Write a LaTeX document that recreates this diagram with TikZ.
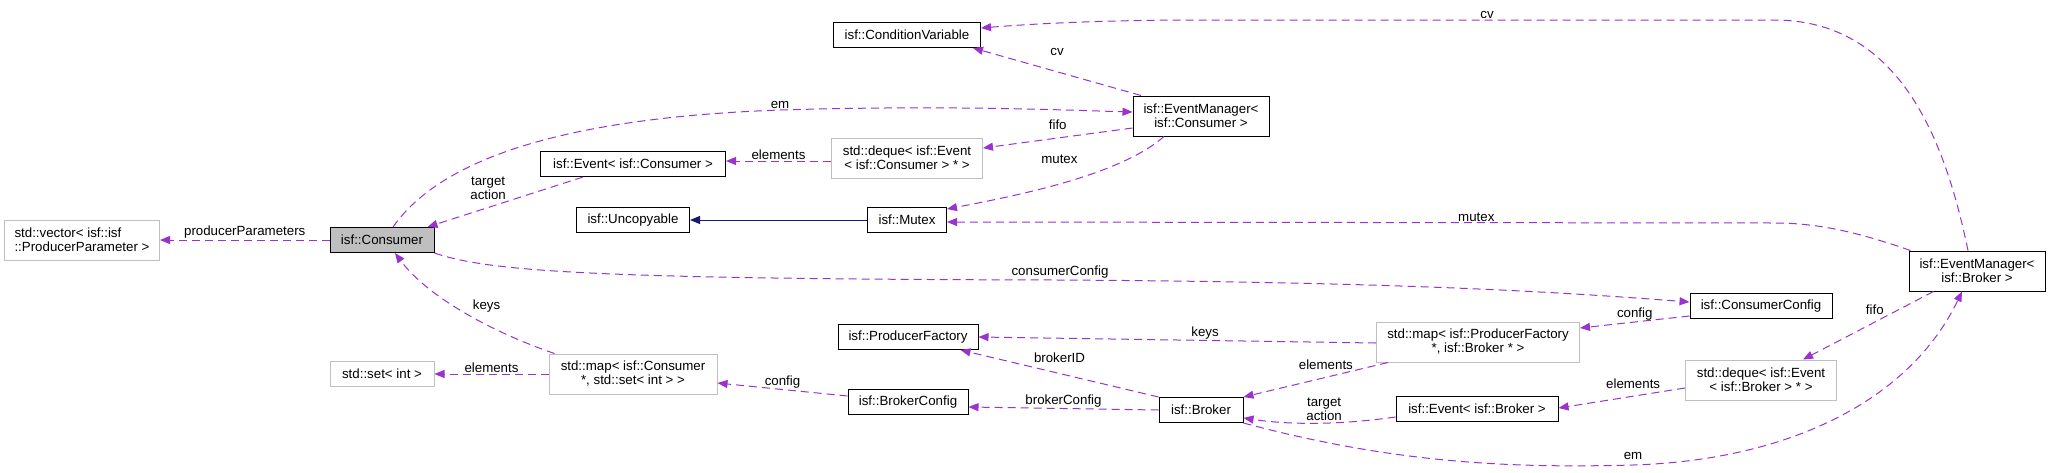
\documentclass[tikz,border=0pt]{standalone}
\usepackage{fontspec}
\setmainfont{Liberation Sans}
\usetikzlibrary{arrows.meta}

\definecolor{usecol}{RGB}{154,50,205}
\definecolor{inhcol}{RGB}{25,25,112}
\definecolor{extcol}{RGB}{191,191,191}

\begin{document}
\begin{tikzpicture}[
  x=1pt, y=-1pt,
  cls/.style={draw=black, fill=white, line width=1pt, align=center, inner xsep=3pt,
              inner ysep=2pt, minimum height=25pt, font=\fontsize{13.3}{14}\selectfont},
  ext/.style={cls, draw=extcol},
  cur/.style={cls, fill=extcol},
  twoline/.style={minimum height=40pt},
  use/.style={draw=usecol, line width=1pt, dash pattern=on 8pt off 5pt,
              -{Triangle[length=10pt, width=8pt]}},
  inh/.style={draw=inhcol, line width=1pt, -{Triangle[length=10pt, width=8pt]}},
  lbl/.style={font=\fontsize{13.3}{14}\selectfont, align=center, inner sep=1pt, text=black}
]
\useasboundingbox (0,0) rectangle (2051,472);

\node[ext, align=left, minimum width=155pt, twoline] (vec) at (82,240) {std::vector< isf::isf\\::ProducerParameter >};
\node[cur, minimum width=104pt] (cons) at (382,240) {isf::Consumer};
\node[ext, minimum width=104pt] (set) at (382,374) {std::set< int >};
\node[cls, minimum width=185pt] (evc) at (633,164) {isf::Event< isf::Consumer >};
\node[cls, minimum width=113pt] (unc) at (633,220) {isf::Uncopyable};
\node[ext, minimum width=168pt, twoline] (mapc) at (633,374) {std::map< isf::Consumer\\*, std::set< int > >};
\node[cls, minimum width=147pt] (cv) at (907,35) {isf::ConditionVariable};
\node[ext, minimum width=151pt, twoline] (dqc) at (907,158) {std::deque< isf::Event\\< isf::Consumer > * >};
\node[cls, minimum width=79pt] (mtx) at (907,220) {isf::Mutex};
\node[cls, minimum width=140pt] (pf) at (908,337) {isf::ProducerFactory};
\node[cls, minimum width=120pt] (bcfg) at (908,402) {isf::BrokerConfig};
\node[cls, minimum width=136pt, twoline] (emc) at (1201,116) {isf::EventManager<\\isf::Consumer >};
\node[cls, minimum width=84pt] (brk) at (1201,410) {isf::Broker};
\node[ext, minimum width=203pt, twoline] (mapb) at (1478,342) {std::map< isf::ProducerFactory\\*, isf::Broker * >};
\node[cls, minimum width=162pt] (evb) at (1477,409) {isf::Event< isf::Broker >};
\node[cls, minimum width=142pt] (ccfg) at (1761,306) {isf::ConsumerConfig};
\node[ext, minimum width=151pt, twoline] (dqb) at (1761,380) {std::deque< isf::Event\\< isf::Broker > * >};
\node[cls, minimum width=136pt, twoline] (emb) at (1977,271) {isf::EventManager<\\isf::Broker >};

\draw[use] (cons.west) -- node[lbl, above]{producerParameters} (vec.east);
\draw[use] ([xshift=-50pt]evc.south) -- node[lbl, pos=0.61, above=6pt]{target\\action} ([xshift=-7pt]cons.north east);
\draw[use] ([xshift=6pt]mapc.north west) .. controls (500,335) and (430,300) .. node[lbl, pos=0.5, above right, xshift=4pt]{keys} ([xshift=13pt]cons.south);
\draw[use] ([xshift=11pt]cons.north) .. controls (440,160) and (560,118) .. (780,110) node[lbl, above]{em}
  .. controls (950,105) and (1060,110) .. ([yshift=4pt]emc.west);
\draw[use] (cons.south east) .. controls (490,272) and (600,279) .. (1060,280) node[lbl, above]{consumerConfig}
  .. controls (1400,282) and (1560,292) .. ([yshift=4pt]ccfg.west);
\draw[use] (mapc.west) -- node[lbl, above]{elements} (set.east);
\draw[use] ([yshift=-3pt]dqc.west) -- node[lbl, above]{elements} ([yshift=3pt]evc.east);
\draw[use] ([xshift=-60pt]emc.north) -- node[lbl, above=15pt]{cv} ([xshift=-8pt]cv.south east);
\draw[use] ([yshift=-12pt]emc.west) -- node[lbl, above=7pt]{fifo} ([yshift=10pt]dqc.east);
\draw[use] ([xshift=-37pt]emc.south) .. controls (1120,175) and (1020,195) .. node[lbl, pos=0.5, above=17pt, xshift=-7pt]{mutex} ([yshift=-2pt]mtx.north east);
\draw[inh] (mtx.west) -- (unc.east);
\draw[use] ([xshift=-9pt]emb.north) .. controls (1945,140) and (1900,20) .. (1774,20) -- node[lbl, above]{cv} (1200,20)
  .. controls (1100,20) and (1030,24) .. ([yshift=7pt]cv.east);
\draw[use] ([xshift=2pt]emb.north west) .. controls (1860,233) and (1820,223) .. (1774,223)
  -- node[lbl, pos=0.36, above]{mutex} ([yshift=-2pt]mtx.east);
\draw[use] ([xshift=25pt]emb.south west) -- node[lbl, pos=0.45, above=6pt]{fifo} ([xshift=42pt]dqb.north);
\draw[use] (brk.south east) .. controls (1400,465) and (1520,468) .. (1633,465) node[lbl, above=4pt]{em}
  .. controls (1790,460) and (1910,400) .. ([xshift=-15pt]emb.south);
\draw[use] (brk.north west) -- node[lbl, above=9pt]{brokerID} ([xshift=-18pt]pf.south east);
\draw[use] (brk.west) -- node[lbl, above]{brokerConfig} ([yshift=-5pt]bcfg.east);
\draw[use] ([yshift=6pt]bcfg.west) -- node[lbl, above]{config} ([yshift=-9pt]mapc.east);
\draw[use] ([yshift=-1pt]mapb.west) -- node[lbl, pos=0.43, above]{keys} (pf.east);
\draw[use] ([xshift=12pt]mapb.south west) -- node[lbl, pos=0.43, above=6pt]{elements} (brk.north east);
\draw[use] ([yshift=-8pt]evb.west) .. controls (1340,425) and (1290,425) .. node[lbl, pos=0.5, above=1pt, xshift=8pt]{target\\action} ([yshift=-8pt]brk.east);
\draw[use] ([yshift=-10pt]ccfg.west) -- node[lbl, above]{config} ([yshift=14pt]mapb.east);
\draw[use] ([yshift=-8pt]dqb.west) -- node[lbl, pos=0.41, above=6pt]{elements} ([yshift=1pt]evb.east);
\end{tikzpicture}
\end{document}
